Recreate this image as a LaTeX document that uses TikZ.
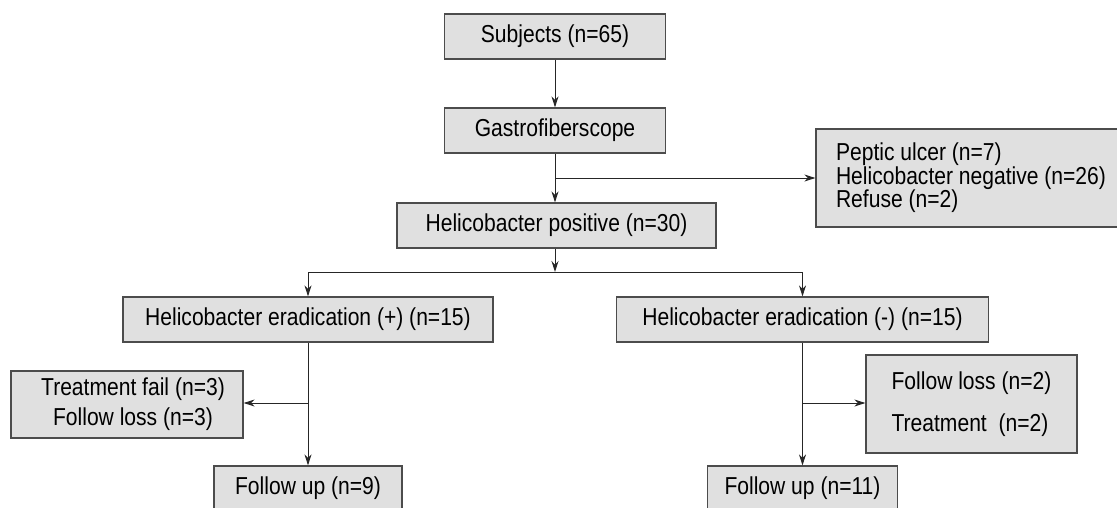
\documentclass[tikz,border=0pt]{standalone}
\usepackage{fontspec}
\setmainfont{Liberation Sans}[FakeStretch=0.86]
\usetikzlibrary{arrows.meta}
\tikzset{
  box/.style={draw=black!70, fill=black!12, line width=1.2pt, inner sep=0pt,
    minimum height=45pt, font=\fontsize{24.5}{23.5}\selectfont},
  arr/.style={-{Stealth[length=11pt,width=7pt]}, line width=1pt, black!85}
}
\begin{document}
\begin{tikzpicture}[x=1pt,y=-1pt]
  \useasboundingbox (0,0) rectangle (1117,507);
  \clip (0,0) rectangle (1117,507);
  \node[box, minimum width=221pt] (subj) at (555,36.5) {Subjects (n=65)};
  \node[box, minimum width=221pt] (gastro) at (555,130.5) {Gastrofiberscope};
  \node[box, minimum width=310pt, minimum height=98pt, align=left] (excl) at (971,178)
    {Peptic ulcer (n=7)\\Helicobacter negative (n=26)\\Refuse (n=2)};
  \node[box, minimum width=319pt] (helpos) at (556.5,225.5) {Helicobacter positive (n=30)};
  \node[box, minimum width=370pt] (eradp) at (308,319.5) {Helicobacter eradication (+) (n=15)};
  \node[box, minimum width=372pt] (eradm) at (802.5,319.5) {Helicobacter eradication (-) (n=15)};
  \node[box, minimum width=232pt, minimum height=67pt, align=center,
    font=\fontsize{24.5}{30}\selectfont] (fail) at (127,404.5)
    {\hspace*{12pt}Treatment fail (n=3)\\\hspace*{12pt}Follow loss (n=3)};
  \node[box, minimum width=211pt, minimum height=98pt, align=left,
    font=\fontsize{24.5}{42}\selectfont] (loss) at (971.5,404)
    {Follow loss (n=2)\\Treatment~~(n=2)};
  \node[box, minimum width=188pt] (followl) at (308,488.5) {Follow up (n=9)};
  \node[box, minimum width=190pt] (followr) at (802.5,488.5) {Follow up (n=11)};
  \coordinate (exc) at (555,178);
  \coordinate (split) at (555,272);
  \coordinate (lbr) at (308,403);
  \coordinate (rbr) at (802.5,403);
  \draw[arr] (subj) -- (gastro);
  \draw[arr] (gastro.south) -- (gastro.south |- helpos.north);
  \draw[arr] (exc) -- (exc -| excl.west);
  \draw[arr] (helpos.south -| split) -- (split);
  \draw[arr] (split) -| (eradp);
  \draw[arr] (split) -| (eradm);
  \draw[arr] (eradp) -- (followl);
  \draw[arr] (lbr) -- (lbr -| fail.east);
  \draw[arr] (eradm) -- (followr);
  \draw[arr] (rbr) -- (rbr -| loss.west);
\end{tikzpicture}
\end{document}
